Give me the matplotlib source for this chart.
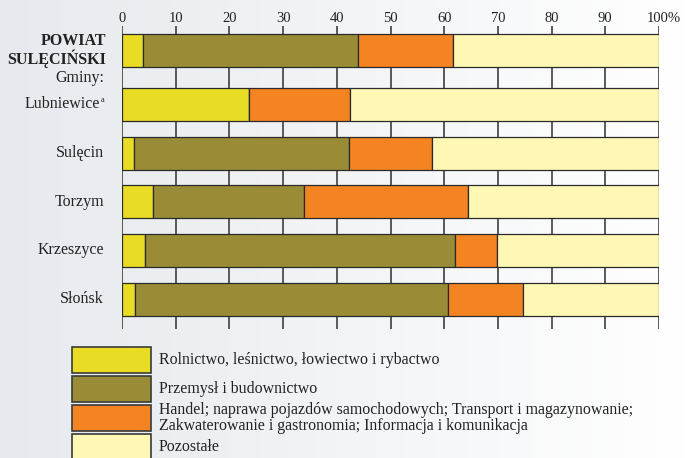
import numpy as np
import matplotlib.pyplot as plt
import matplotlib.transforms as mtransforms
from matplotlib.patches import Rectangle
from matplotlib.colors import LinearSegmentedColormap

labels = ['POWIAT\nSULĘCIŃSKI', 'Lubniewice', 'Sulęcin', 'Torzym', 'Krzeszyce', 'Słońsk']
rolnictwo = [3.9, 23.7, 2.3, 5.7, 4.3, 2.5]
przemysl = [40.1, 0.0, 40.0, 28.1, 57.7, 58.3]
handel = [17.7, 18.8, 15.5, 30.6, 7.8, 13.8]
pozostale = [38.3, 57.5, 42.2, 35.6, 30.2, 25.4]
series_names = ['Rolnictwo, leśnictwo, łowiectwo i rybactwo',
                'Przemysł i budownictwo',
                'Handel; naprawa pojazdów samochodowych; Transport i magazynowanie;\n'
                'Zakwaterowanie i gastronomia; Informacja i komunikacja',
                'Pozostałe']
colors = ['#E8DC25', '#9A8C37', '#F38421', '#FFF8B4']
xticks = [0, 10, 20, 30, 40, 50, 60, 70, 80, 90, 100]
xticklabels = ['0', '10', '20', '30', '40', '50', '60', '70', '80', '90', '100%']

plt.rcParams['font.family'] = 'Liberation Serif'

W, H = 687, 458
fig = plt.figure(figsize=(W / 100, H / 100), dpi=100)

# background gradient
bg = fig.add_axes([0, 0, 1, 1], zorder=-10)
cmap = LinearSegmentedColormap.from_list('bg', ['#E6EAEE', '#F2F4F6', '#FFFFFF'])
bg.imshow(np.linspace(0, 1, 256)[None, :], aspect='auto', cmap=cmap, extent=[0, 1, 0, 1])
bg.set_axis_off()

ax = fig.add_axes([122 / W, 1 - 329 / H, 537 / W, 303 / H])
ax.patch.set_alpha(0)
ypos = np.array([50.5, 104.5, 153, 201.5, 250, 299])
left = np.zeros(len(labels))
for vals, c in zip([rolnictwo, przemysl, handel, pozostale], colors):
    vals = np.array(vals)
    ax.barh(ypos, vals, height=33, left=left, color=c, edgecolor='#2a2a2a',
            linewidth=0.9, zorder=3)
    left = left + vals

ax.set_xlim(0, 100)
ax.set_ylim(329, 26)
ax.set_xticks(xticks)
ax.set_xticklabels(xticklabels, fontsize=10.5, color='#222222')
ax.xaxis.tick_top()
ax.tick_params(axis='x', length=0, pad=1)
last = ax.get_xticklabels()[-1]
last.set_transform(last.get_transform() +
                   mtransforms.ScaledTranslation(4.5 / 100, 0, fig.dpi_scale_trans))
ax.set_yticks(ypos)
ax.set_yticklabels([])
ax.tick_params(axis='y', length=0)
for x in xticks:
    ax.axvline(x, color='#4d4d4d', linewidth=1.3, zorder=1)
for s in ax.spines.values():
    s.set_visible(False)

lx = -18 / 5.37
for i, (y, lab) in enumerate(zip(ypos, labels)):
    if i == 0:
        ax.text(-16 / 5.37, y, lab, ha='right', va='center', fontsize=11.5,
                fontweight='bold', color='#222222', linespacing=1.0)
    elif i == 1:
        t = ax.text(-22 / 5.37, y, lab, ha='right', va='center', fontsize=11.5,
                    color='#222222')
        ax.text(-21.5 / 5.37, y - 5, 'a', ha='left', va='center', fontsize=6,
                color='#222222')
    else:
        ax.text(lx, y, lab, ha='right', va='center', fontsize=11.5, color='#222222')
ax.text(lx, 78, 'Gminy:', ha='right', va='center', fontsize=11.5, color='#222222')

# legend
lg = fig.add_axes([0, 0, 1, 1], zorder=5)
lg.set_xlim(0, W)
lg.set_ylim(H, 0)
lg.set_axis_off()
box_tops = [347, 376, 405, 434]
for top, c, name in zip(box_tops, colors, series_names):
    lg.add_patch(Rectangle((72, top), 79, 26, facecolor=c, edgecolor='#3a3a3a', linewidth=1.2))
    lg.text(159, top + 13, name, ha='left', va='center', fontsize=11.4,
            color='#222222', linespacing=0.95)

fig.savefig('out.png', dpi=100)
